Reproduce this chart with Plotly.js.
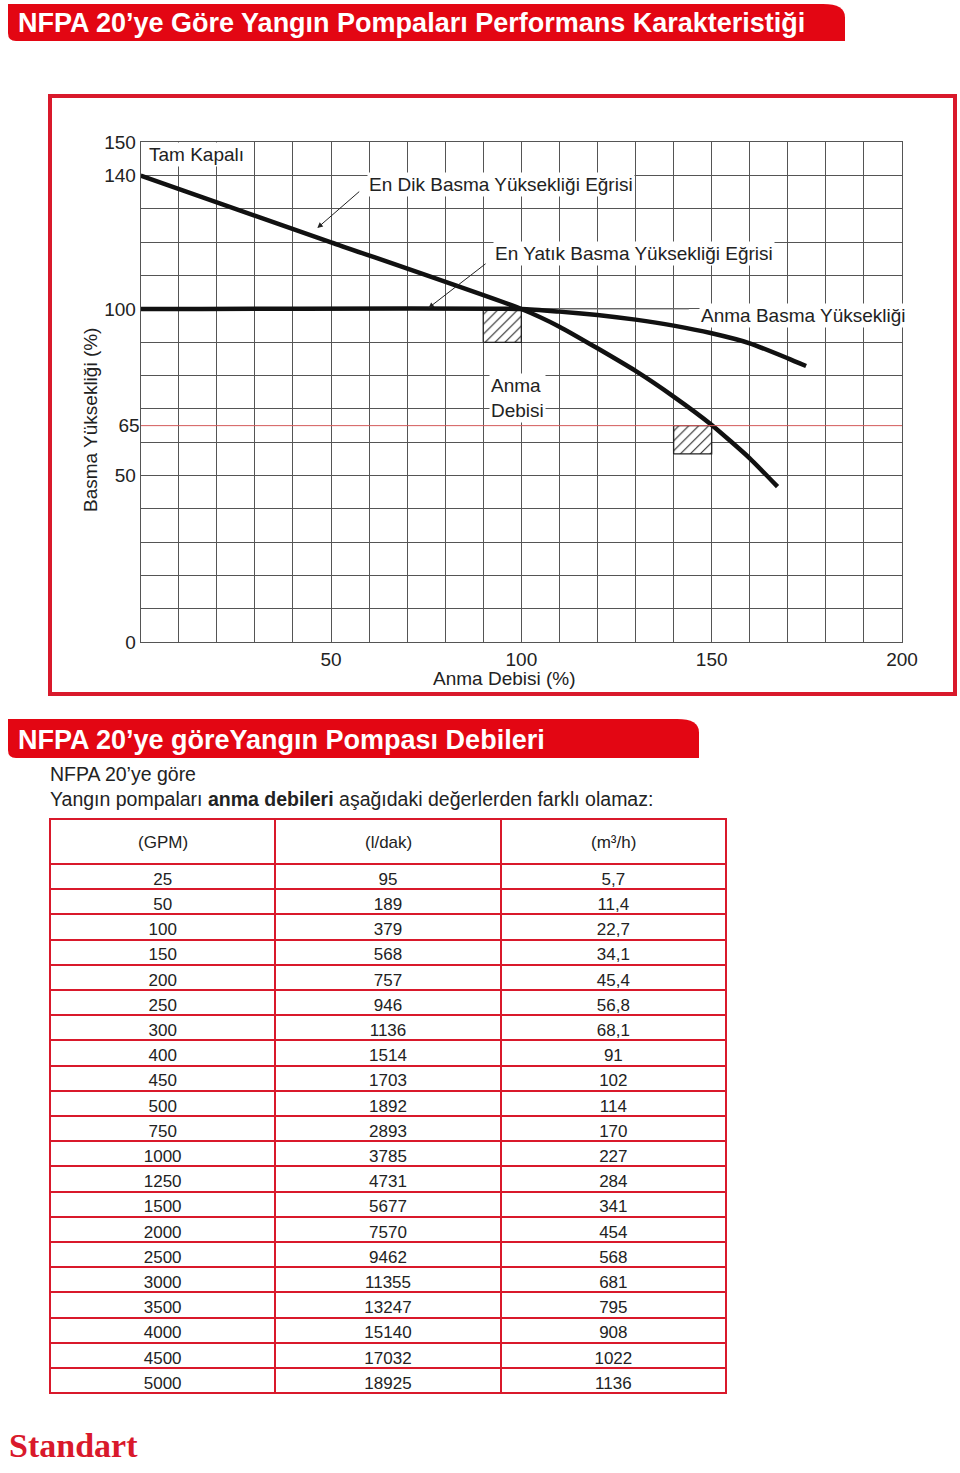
<!DOCTYPE html>
<html>
<head>
<meta charset="utf-8">
<script src="https://cdn.plot.ly/plotly-3.0.1.min.js"></script>
<style>
html,body{margin:0;padding:0;background:#ffffff;}
#chart{width:960px;height:1473px;}
</style>
</head>
<body>
<div id="chart"></div>
<script>
// ---------- chart data ----------
const steepX = [0, 50, 100, 110, 120, 130, 140, 150, 160, 167.3];
const steepY = [140, 120, 100, 94.7, 88.2, 81.4, 73.7, 65.2, 55.2, 46.7];
const flatX = [0, 100, 110, 120, 130, 140, 150, 160, 170, 174.8];
const flatY = [100, 100, 99.2, 98.2, 96.8, 95, 92.7, 89.7, 85.2, 82.9];
const ratedHeadX = [100, 144];
const ratedHeadY = [100, 100];
const minHeadX = [0, 200];
const minHeadY = [65, 65];
const hatch1X = [90, 100, 100, 90, 90];
const hatch1Y = [90, 90, 100, 100, 90];
const hatch2X = [140, 150, 150, 140, 140];
const hatch2Y = [56.5, 56.5, 65, 65, 56.5];

const xTickVals = [0, 10, 20, 30, 40, 50, 60, 70, 80, 90, 100, 110, 120, 130, 140, 150, 160, 170, 180, 190, 200];
const xTickText = ['', '', '', '', '', '50', '', '', '', '', '100', '', '', '', '', '150', '', '', '', '', '200'];
const yTickVals = [0, 10, 20, 30, 40, 50, 60, 70, 80, 90, 100, 110, 120, 130, 140, 150];
const yTickText = ['0', '', '', '', '', '50', '', '', '', '', '100', '', '', '', '140', '150'];
const y2TickVals = [65];
const y2TickText = ['65'];

// ---------- table data ----------
const tableHeader = ['(GPM)', '(l/dak)', '(m³/h)'];
const gpm = ['25', '50', '100', '150', '200', '250', '300', '400', '450', '500', '750', '1000', '1250', '1500', '2000', '2500', '3000', '3500', '4000', '4500', '5000'];
const lpm = ['95', '189', '379', '568', '757', '946', '1136', '1514', '1703', '1892', '2893', '3785', '4731', '5677', '7570', '9462', '11355', '13247', '15140', '17032', '18925'];
const m3h = ['5,7', '11,4', '22,7', '34,1', '45,4', '56,8', '68,1', '91', '102', '114', '170', '227', '284', '341', '454', '568', '681', '795', '908', '1022', '1136'];

// ---------- helpers ----------
const W = 960, H = 1473;
const px = v => v / W;
const py = v => 1 - v / H;
const RED = '#d9192b';
const BANNER = '#e30613';
const FONT = 'Liberation Sans, Arial, Helvetica, sans-serif';
const TXT = '#222';

const thick = {color: '#111', width: 4.5, shape: 'spline', smoothing: 0.5};

const tableLeft = 50, tableRight = 726, tableTop = 819, tableBottom = 1397, headerH = 45;
const colW = (tableRight - tableLeft) / tableHeader.length;

const traces = [
  {type: 'scatter', mode: 'lines', x: minHeadX, y: minHeadY, yaxis: 'y2',
   line: {color: '#d35a5a', width: 1}, hoverinfo: 'skip'},
  {type: 'scatter', mode: 'lines', x: ratedHeadX, y: ratedHeadY,
   line: {color: '#777', width: 1}, hoverinfo: 'skip'},
  {type: 'scatter', mode: 'lines', x: hatch1X, y: hatch1Y, fill: 'toself',
   fillcolor: 'rgba(255,255,255,1)',
   fillpattern: {shape: '/', fgcolor: '#222', bgcolor: '#fff', size: 7, solidity: 0.15},
   line: {color: '#222', width: 1.3}, hoverinfo: 'skip'},
  {type: 'scatter', mode: 'lines', x: hatch2X, y: hatch2Y, fill: 'toself',
   fillcolor: 'rgba(255,255,255,1)',
   fillpattern: {shape: '/', fgcolor: '#222', bgcolor: '#fff', size: 7, solidity: 0.15},
   line: {color: '#222', width: 1.3}, hoverinfo: 'skip'},
  {type: 'scatter', mode: 'lines', x: flatX, y: flatY, line: thick, hoverinfo: 'skip'},
  {type: 'scatter', mode: 'lines', x: steepX, y: steepY, line: thick, hoverinfo: 'skip'},
  {type: 'table',
   domain: {x: [px(tableLeft), px(tableRight)], y: [py(tableBottom), py(tableTop)]},
   columnwidth: [1, 1, 1],
   header: {values: tableHeader.map(() => ''), align: 'center', height: headerH,
            line: {color: RED, width: 2}, fill: {color: '#fff'},
            font: {family: FONT, size: 17, color: TXT}},
   cells: {values: [gpm, lpm, m3h], align: 'center', height: 25.2,
           line: {color: RED, width: 2}, fill: {color: '#fff'},
           font: {family: FONT, size: 17, color: TXT}}}
];

function bannerPath(x0, y0, x1, y1, r) {
  return 'M' + px(x0) + ',' + py(y0) +
    ' L' + px(x1 - r) + ',' + py(y0) +
    ' Q' + px(x1) + ',' + py(y0) + ' ' + px(x1) + ',' + py(y0 + r * 0.6) +
    ' L' + px(x1) + ',' + py(y1) +
    ' L' + px(x0 + 8) + ',' + py(y1) +
    ' Q' + px(x0) + ',' + py(y1) + ' ' + px(x0) + ',' + py(y1 - 8) + ' Z';
}

const shapes = [
  {type: 'path', xref: 'paper', yref: 'paper', path: bannerPath(8, 4, 845, 41, 22),
   fillcolor: BANNER, line: {width: 0}, layer: 'below'},
  {type: 'path', xref: 'paper', yref: 'paper', path: bannerPath(8, 719, 699, 758, 22),
   fillcolor: BANNER, line: {width: 0}, layer: 'below'},
  {type: 'rect', xref: 'paper', yref: 'paper', x0: px(50), x1: px(955), y0: py(694), y1: py(96),
   line: {color: RED, width: 4}, fillcolor: 'rgba(0,0,0,0)', layer: 'below'}
];

const LF = 19;
const lab = (text, x, y, extra) => Object.assign({
  text: text, x: x, y: y, xref: 'x', yref: 'y', xanchor: 'left', yanchor: 'middle',
  showarrow: false, bgcolor: '#fff', borderpad: 1, font: {size: LF, color: TXT}
}, extra || {});

const arrow = (hx, hy, tx, ty) => ({
  text: '', x: hx, y: hy, ax: tx, ay: ty, xref: 'x', yref: 'y', axref: 'x', ayref: 'y',
  showarrow: true, arrowhead: 2, arrowsize: 1.1, arrowwidth: 1, arrowcolor: '#222'
});

const paperText = (text, x, y, size, extra) => Object.assign({
  text: text, x: px(x), y: py(y), xref: 'paper', yref: 'paper',
  xanchor: 'left', yanchor: 'middle', showarrow: false, font: {size: size, color: TXT}
}, extra || {});

const annotations = [
  paperText('<b>NFPA 20’ye Göre Yangın Pompaları Performans Karakteristiği</b>', 16, 23, 27,
            {font: {size: 27, color: '#fff'}}),
  paperText('<b>NFPA 20’ye göreYangın Pompası Debileri</b>', 16, 740, 27,
            {font: {size: 27, color: '#fff'}}),
  paperText('NFPA 20’ye göre', 48, 774, 19.5),
  paperText('Yangın pompaları <b>anma debileri</b> aşağıdaki değerlerden farklı olamaz:', 48, 799, 19.5),
  paperText('Anma Debisi (%)', 504, 678, LF, {xanchor: 'center'}),
  paperText('Basma Yüksekliği (%)', 91, 420, LF, {xanchor: 'center', textangle: -90}),
  lab('Tam Kapalı', 1.6, 146.2),
  lab('En Dik Basma Yüksekliği Eğrisi', 59.4, 137.2),
  lab('En Yatık Basma Yüksekliği Eğrisi', 92.6, 116.5),
  lab('Anma Basma Yüksekliği', 146.6, 97.9),
  lab('Anma<br>Debisi', 91.6, 73.4, {align: 'left'}),
  arrow(46.4, 124.3, 57.8, 135.6),
  arrow(75.6, 100.3, 91.0, 113.9),
  paperText('<b>Standart</b>', 7, 1445, 34,
            {font: {family: 'Liberation Serif, DejaVu Serif, serif', size: 34, color: RED}})
];
// table header labels, centred in the header row of each column
tableHeader.forEach((h, i) => {
  annotations.push(paperText(h, tableLeft + (i + 0.5) * colW, tableTop + headerH / 2 + 1, 17,
                             {xanchor: 'center'}));
});

const axisCommon = {
  tickmode: 'array', showgrid: true, gridcolor: '#555', gridwidth: 1,
  zeroline: false, showline: true, linecolor: '#555', linewidth: 1, mirror: true,
  ticks: '', tickfont: {size: LF, color: TXT}, fixedrange: true
};

const layout = {
  width: W, height: H,
  margin: {l: 0, r: 0, t: 0, b: 0, pad: 0},
  paper_bgcolor: '#fff', plot_bgcolor: '#fff',
  showlegend: false,
  font: {family: FONT, color: TXT, size: 18},
  xaxis: Object.assign({}, axisCommon, {
    domain: [px(140.7), px(902)], range: [0, 200],
    tickvals: xTickVals, ticktext: xTickText
  }),
  yaxis: Object.assign({}, axisCommon, {
    domain: [py(642.3), py(142.3)], range: [0, 150],
    tickvals: yTickVals, ticktext: yTickText
  }),
  yaxis2: {
    overlaying: 'y', anchor: 'x', side: 'left', range: [0, 150],
    tickmode: 'array', tickvals: y2TickVals, ticktext: y2TickText,
    showgrid: false, zeroline: false, showline: false, ticks: '',
    tickfont: {size: LF, color: TXT}, fixedrange: true
  },
  shapes: shapes,
  annotations: annotations
};

Plotly.newPlot('chart', traces, layout, {displayModeBar: false, staticPlot: true});
</script>
</body>
</html>
